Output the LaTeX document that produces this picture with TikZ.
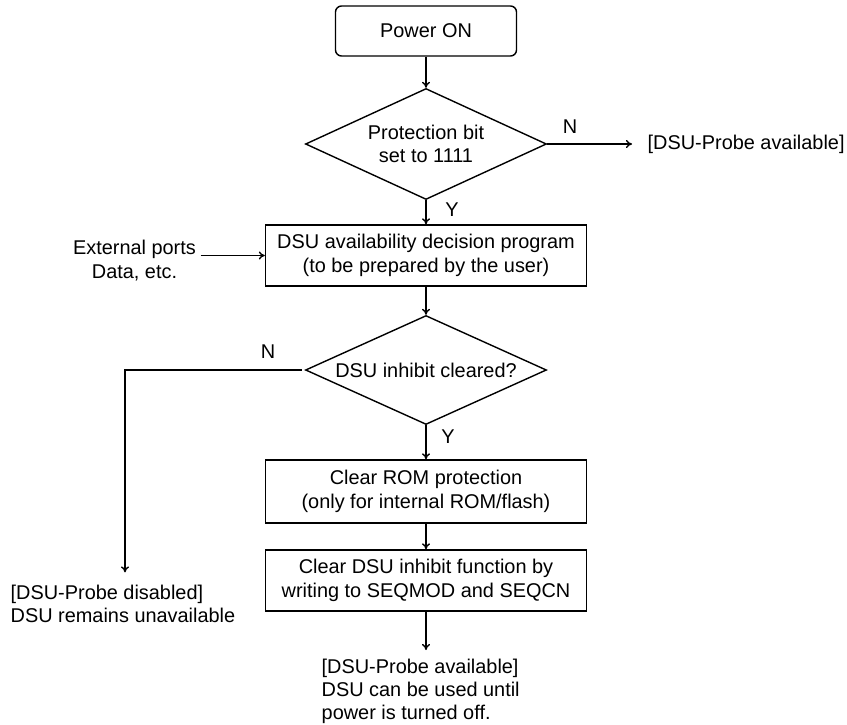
\documentclass[tikz,border=0pt]{standalone}
\usepackage{fontspec}
\setmainfont{Liberation Sans}
\usetikzlibrary{shapes.geometric,arrows.meta}
\begin{document}
\begin{tikzpicture}[x=1pt,y=-1pt,
  font=\fontsize{19.9}{23.3}\selectfont,
  every path/.style={line width=1.4pt},
  arr/.style={-{To[length=6pt,width=8pt]}},
  procbox/.style={draw, rectangle, minimum width=321pt, minimum height=61pt, align=center, inner sep=0pt},
  decision/.style={draw, diamond, inner sep=0pt},
  plain/.style={inner sep=0pt, align=center}]
\path[use as bounding box] (0,0) rectangle (847,725);

\node[draw, rounded corners=6pt, minimum width=181pt, minimum height=50pt, inner sep=0pt] (power) at (426,31) {Power ON};

\node[decision, minimum width=241pt, minimum height=111pt,
  label={[align=center,inner sep=0pt]center:Protection bit\\set to 1111}] (d1) at (426,144) {};
\node[plain, anchor=west] (avail1) at (647,144) {[DSU-Probe available]};
\node[plain] (n1) at (570,127) {N};
\node[plain] (y1) at (452,210) {Y};

\node[procbox] (box2) at (426,255.5) {DSU availability decision program\\(to be prepared by the user)};
\node[plain] (ext) at (134.5,260.5) {External ports\\Data, etc.};

\node[decision, minimum width=241pt, minimum height=109pt,
  label={[inner sep=0pt]center:DSU inhibit cleared?}] (d2) at (426,370) {};
\node[plain] (n2) at (268,352) {N};
\node[plain] (y2) at (448,437) {Y};
\coordinate (corner) at (125,370);

\node[procbox, minimum height=63pt] (box3) at (426,491.5) {Clear ROM protection\\(only for internal ROM/flash)};
\node[procbox] (box4) at (426,580.5) {Clear DSU inhibit function by\\writing to SEQMOD and SEQCN};

\node[plain, align=left, anchor=west] (disabled) at (10,604) {[DSU-Probe disabled]\\DSU remains unavailable};
\node[plain, align=left, anchor=north west] (final) at (321,658) {[DSU-Probe available]\\DSU can be used until\\power is turned off.};

\draw[arr] (power) -- (d1);
\draw[arr, shorten >=15pt] (d1.east) -- (avail1.west);
\draw[arr] (d1) -- (box2);
\draw[arr] (box2.west -| ext.east) ++(4,0) -- (box2.west);
\draw[arr] (box2) -- (d2);
\draw[arr] (d2) -- (box3);
\draw[arr] (box3) -- (box4);
\draw[arr, shorten >=8pt] (box4.south) -- (box4.south |- final.north);
\draw[arr, shorten >=12pt] ([xshift=-3pt]d2.west) -- (corner) -- (corner |- disabled.north);
\end{tikzpicture}
\end{document}
